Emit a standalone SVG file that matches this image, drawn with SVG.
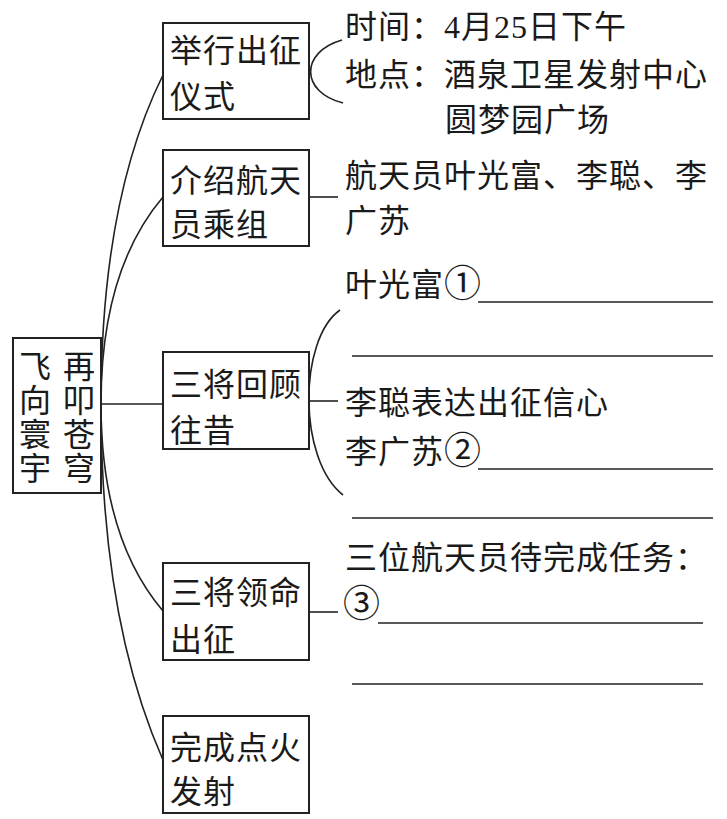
<svg xmlns="http://www.w3.org/2000/svg" width="727" height="819" viewBox="0 0 727 819">
<style>
.box{fill:#fff;stroke:#222;stroke-width:2}
.ln{fill:none;stroke:#222;stroke-width:1.6}
.bl{fill:none;stroke:#222;stroke-width:1.6}
text{font-family:"Liberation Serif","Noto Sans CJK SC",serif;font-size:32px;fill:#1a1a1a;letter-spacing:1px}
.v{text-anchor:middle;letter-spacing:0}
.c{font-size:37px;letter-spacing:0}
</style>
<rect width="727" height="819" fill="#fff"/>
<g id="connectors">
<path class="ln" d="M101,404 Q101,200 163,75"/>
<path class="ln" d="M101,404 Q101,270 163,197"/>
<path class="ln" d="M101,404 L163,404"/>
<path class="ln" d="M101,404 Q101,538 163,611"/>
<path class="ln" d="M101,404 Q101,620 163,760"/>
<path class="ln" d="M342,40 C300,52 300,92 343,103"/>
<path class="ln" d="M309,197 L338,197"/>
<path class="ln" d="M309,401 L338,401"/>
<path class="ln" d="M340,310 C298,340 298,460 343,495"/>
<path class="ln" d="M309,612 L338,612"/>
</g>
<g id="root">
<rect class="box" x="13" y="338" width="88" height="155"/>
<text class="v"><tspan x="35" y="378">飞</tspan><tspan x="35" y="412">向</tspan><tspan x="35" y="446">寰</tspan><tspan x="35" y="480">宇</tspan></text>
<text class="v"><tspan x="79" y="378">再</tspan><tspan x="79" y="412">叩</tspan><tspan x="79" y="446">苍</tspan><tspan x="79" y="480">穹</tspan></text>
</g>
<g id="n1">
<rect class="box" x="163" y="23" width="146" height="96"/>
<text x="170" y="62">举行出征</text>
<text x="170" y="108">仪式</text>
</g>
<g id="n2">
<rect class="box" x="163" y="150" width="146" height="96"/>
<text x="170" y="192">介绍航天</text>
<text x="170" y="236">员乘组</text>
</g>
<g id="n3">
<rect class="box" x="163" y="352" width="146" height="97"/>
<text x="170" y="396">三将回顾</text>
<text x="170" y="442">往昔</text>
</g>
<g id="n4">
<rect class="box" x="163" y="563" width="146" height="97"/>
<text x="170" y="604">三将领命</text>
<text x="170" y="651">出征</text>
</g>
<g id="n5">
<rect class="box" x="163" y="716" width="146" height="97"/>
<text x="170" y="759">完成点火</text>
<text x="170" y="803">发射</text>
</g>
<g id="t1">
<text x="345" y="38">时间：4月25日下午</text>
<text x="345" y="86">地点：酒泉卫星发射中心</text>
<text x="445" y="131">圆梦园广场</text>
</g>
<g id="t2">
<text x="345" y="187">航天员叶光富、李聪、李</text>
<text x="345" y="232">广苏</text>
</g>
<g id="t3">
<text x="345" y="296">叶光富<tspan class="c" dy="1">①</tspan></text>
<text x="345" y="414">李聪表达出征信心</text>
<text x="345" y="463">李广苏<tspan class="c" dy="1">②</tspan></text>
<line class="bl" x1="478" y1="302" x2="713" y2="302"/>
<line class="bl" x1="352" y1="356" x2="713" y2="356"/>
<line class="bl" x1="478" y1="469" x2="713" y2="469"/>
<line class="bl" x1="352" y1="518" x2="713" y2="518"/>
</g>
<g id="t4">
<text x="345" y="569">三位航天员待完成任务：</text>
<text x="343" y="617" class="c">③</text>
<line class="bl" x1="378" y1="623" x2="703" y2="623"/>
<line class="bl" x1="352" y1="684" x2="703" y2="684"/>
</g>
</svg>
